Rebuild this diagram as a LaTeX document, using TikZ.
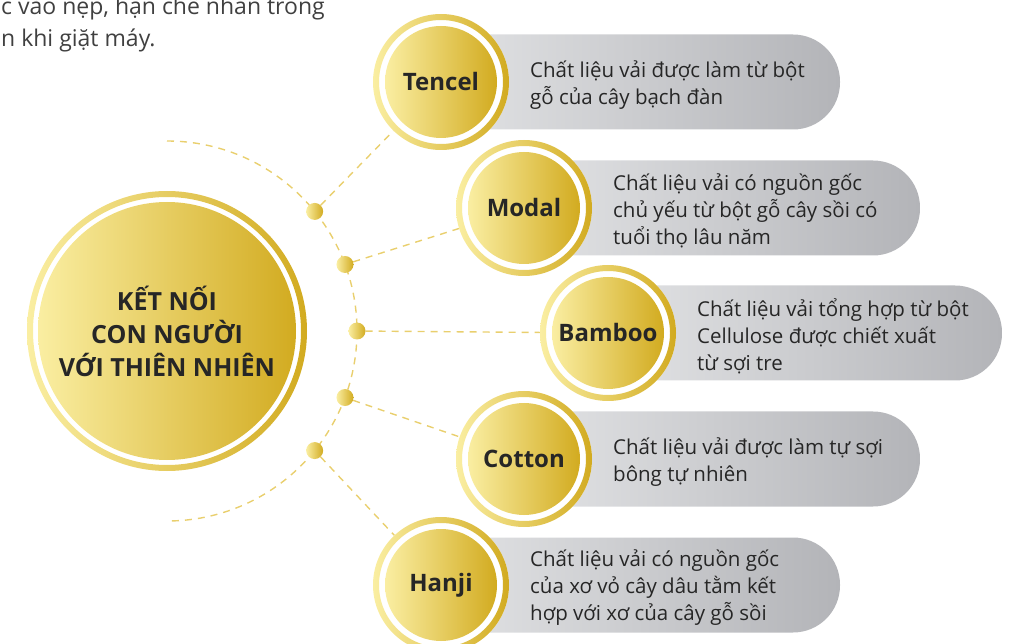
\documentclass[tikz,border=0pt]{standalone}
\usepackage{fontspec}
\setmainfont{Open Sans}
\usepackage{tikz}
\usetikzlibrary{calc,backgrounds}
\definecolor{goldL}{HTML}{FAEEA2}
\definecolor{goldD}{HTML}{D2AB20}
\definecolor{pillL}{HTML}{E2E3E5}
\definecolor{pillR}{HTML}{B3B4B8}
\definecolor{dashgold}{HTML}{E9CF6E}
\definecolor{ink}{HTML}{262626}
\definecolor{notegray}{HTML}{404040}

\begin{document}
\begin{tikzpicture}[x=1pt, y=-1pt,
  gold/.style={left color=goldL, right color=goldD},
  ring/.style={gold, even odd rule},
  hub/.style={circle, gold, minimum size=258pt, inner sep=0pt, align=center,
              text=ink, font=\fontsize{25}{33}\selectfont\bfseries},
  fibre/.style={circle, gold, minimum size=112pt, inner sep=0pt, text=ink,
                font=\fontsize{24}{28}\selectfont\bfseries},
  dot/.style={circle, gold, minimum size=17pt, inner sep=0pt},
  pill/.style={left color=pillL, right color=pillR, rounded corners=47pt},
  desc/.style={anchor=west, align=left, inner sep=0pt, text=ink,
               font=\fontsize{20.5}{27}\selectfont},
  link/.style={draw=dashgold, line width=1.4pt, dash pattern=on 7pt off 6pt},
  note/.style={anchor=west, align=left, inner sep=0pt, text=notegray,
               font=\fontsize{23}{32}\selectfont}
]
  \useasboundingbox (0,0) rectangle (1010,644);

  % Cut-off text from the page above
  \node[note] (note) at (1,24) {c vào nẹp, hạn chế nhăn trong\\n khi giặt máy.};

  % Hub circle with its ring
  \shade[ring] (167,331) circle (140) circle (134);
  \node[hub] (hub) at (167,331) {KẾT NỐI\\CON NGƯỜI\\VỚI THIÊN NHIÊN};

  % Dots on the dashed arc
  \foreach \n/\a in {1/-39, 2/-20.5, 3/0, 4/20.5, 5/39}
    \node[dot] (d\n) at ($(hub)+(\a:190)$) {};

  % Fibres: pill, ring, label, description
  \foreach \fib/\cx/\cy/\ex/\lbl/\txt in {
    tencel/441/82/840/Tencel/{Chất liệu vải được làm từ bột\\gỗ của cây bạch đàn},
    modal/524/208/920/Modal/{Chất liệu vải có nguồn gốc\\chủ yếu từ bột gỗ cây sồi có\\tuổi thọ lâu năm},
    bamboo/608/333/1002/Bamboo/{Chất liệu vải tổng hợp từ bột\\Cellulose được chiết xuất\\từ sợi tre},
    cotton/524/459/920/Cotton/{Chất liệu vải được làm tự sợi\\bông tự nhiên},
    hanji/441/585/840/Hanji/{Chất liệu vải có nguồn gốc\\của xơ vỏ cây dâu tằm kết\\hợp với xơ của cây gỗ sồi}} {
    \shade[pill] (\cx,\cy-47.5) rectangle (\ex,\cy+47.5);
    \fill[white] (\cx,\cy) circle (68);
    \shade[ring] (\cx,\cy) circle (68) circle (62);
    \node[fibre] (\fib) at (\cx,\cy) {\lbl};
    \node[desc] (\fib-txt) at (\cx+89,\cy+3) {\txt};
  }

  % Dashed arc and links
  \begin{scope}[on background layer]
    \draw[link] ($(hub)+(-90:190)$) arc[start angle=-90, end angle=90, radius=190];
    \foreach \d/\f in {d1/tencel, d2/modal, d3/bamboo, d4/cotton, d5/hanji}
      \draw[link] (\d) -- (\f);
  \end{scope}
\end{tikzpicture}
\end{document}
